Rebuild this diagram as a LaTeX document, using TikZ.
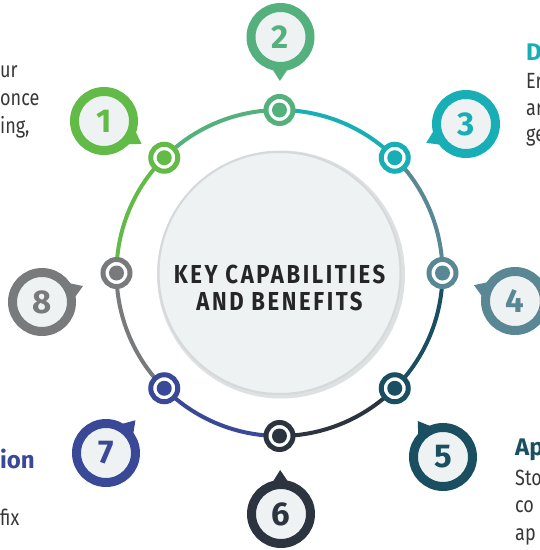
\documentclass[tikz,border=0pt]{standalone}
\usepackage{fontspec}
\setmainfont{Fira Sans}
\usetikzlibrary{calc}
\definecolor{cone}{RGB}{99, 187, 71}
\definecolor{ctwo}{RGB}{84, 176, 125}
\definecolor{cthree}{RGB}{23, 174, 181}
\definecolor{cfour}{RGB}{90, 135, 148}
\definecolor{cfive}{RGB}{26, 79, 97}
\definecolor{csix}{RGB}{44, 52, 64}
\definecolor{cseven}{RGB}{58, 72, 152}
\definecolor{ceight}{RGB}{120, 122, 124}
\definecolor{bub}{RGB}{238, 242, 243}
\definecolor{hubfill}{RGB}{238, 242, 243}
\definecolor{hubline}{RGB}{214, 217, 219}
\definecolor{txt}{RGB}{55, 55, 55}

\tikzset{
  ring/.style={line width=4pt},
  dotring/.style={circle, draw=#1, fill=white, line width=5pt, minimum size=27pt, inner sep=0pt},
  dotcore/.style={circle, fill=#1, minimum size=15pt, inner sep=0pt},
  bubble/.style={circle, draw=#1, fill=bub, line width=9pt, minimum size=59pt, inner sep=0pt, text=#1, font=\fontsize{33}{33}\selectfont\bfseries},
  side/.style={font=\fontsize{22}{28}\selectfont\addfontfeature{FakeStretch=0.82}, text=txt, inner sep=0pt},
  head/.style={font=\fontsize{24}{28}\selectfont\bfseries, text=#1, inner sep=0pt},
  title/.style={font=\fontsize{26}{27}\selectfont\bfseries\addfontfeature{FakeStretch=0.85, LetterSpace=10}, text=black!85, align=center, inner sep=0pt}
}

\begin{document}
\begin{tikzpicture}[x=1pt, y=1pt]
      \useasboundingbox (-279.5, -277) rectangle (260.5, 273);
      \clip (-279.5, -277) rectangle (260.5, 273);
      \fill[hubline!80] (1.5, -1.5) circle (124);
      \node[circle, fill=hubfill, draw=hubline, line width=2pt, minimum size=242pt] (hub) at (0, 0) {};
      \node[title] (t) at (0, -14.5) {KEY CAPABILITIES\\AND BENEFITS};
      \coordinate (p1) at (135:163);
      \coordinate (p2) at (90:163);
      \coordinate (p3) at (45:163);
      \coordinate (p4) at (0:163);
      \coordinate (p5) at (-45:163);
      \coordinate (p6) at (-90:163);
      \coordinate (p7) at (-135:163);
      \coordinate (p8) at (180:163);
      \draw[ring, cone] (p8) arc[start angle=180, end angle=135, radius=163];
      \draw[ring, ctwo] (p1) arc[start angle=135, end angle=90, radius=163];
      \draw[ring, cthree] (p2) arc[start angle=90, end angle=45, radius=163];
      \draw[ring, cfour] (p3) arc[start angle=45, end angle=0, radius=163];
      \draw[ring, cfive] (p4) arc[start angle=0, end angle=-45, radius=163];
      \draw[ring, csix] (p5) arc[start angle=-45, end angle=-90, radius=163];
      \draw[ring, cseven] (p6) arc[start angle=-90, end angle=-135, radius=163];
      \draw[ring, ceight] (p7) arc[start angle=-135, end angle=-180, radius=163];
      \node[dotring=cone] (m1) at (p1) {};
      \node[dotring=ctwo] (m2) at (p2) {};
      \node[dotring=cthree] (m3) at (p3) {};
      \node[dotring=cfour] (m4) at (p4) {};
      \node[dotring=cfive] (m5) at (p5) {};
      \node[dotring=csix] (m6) at (p6) {};
      \node[dotring=cseven] (m7) at (p7) {};
      \node[dotring=ceight] (m8) at (p8) {};
      \node[dotcore=cone] (d1) at (m1) {};
      \node[dotcore=ctwo] (d2) at (m2) {};
      \node[dotcore=cthree] (d3) at (m3) {};
      \node[dotcore=cfour] (d4) at (m4) {};
      \node[dotcore=cfive] (d5) at (m5) {};
      \node[dotcore=csix] (d6) at (m6) {};
      \node[dotcore=cseven] (d7) at (m7) {};
      \node[dotcore=ceight] (d8) at (m8) {};
      \node[bubble=cone] (b1) at (-175.5, 152) {1};
      \node[bubble=ctwo] (b2) at (1, 236) {2};
      \node[bubble=cthree] (b3) at (186.5, 149) {3};
      \node[bubble=cfour] (b4) at (235.5, -28) {4};
      \node[bubble=cfive] (b5) at (163.5, -184) {5};
      \node[bubble=csix] (b6) at (1.5, -241) {6};
      \node[bubble=cseven] (b7) at (-173.5, -180) {7};
      \node[bubble=ceight] (b8) at (-237.5, -29) {8};
      \fill[cone] ($(b1)!44pt!(m1)$) -- ($(b1)!30pt!20:(m1)$) -- ($(b1)!30pt!-20:(m1)$) -- cycle;
      \fill[ctwo] ($(b2)!44pt!(m2)$) -- ($(b2)!30pt!20:(m2)$) -- ($(b2)!30pt!-20:(m2)$) -- cycle;
      \fill[cthree] ($(b3)!44pt!(m3)$) -- ($(b3)!30pt!20:(m3)$) -- ($(b3)!30pt!-20:(m3)$) -- cycle;
      \fill[cfour] ($(b4)!44pt!(m4)$) -- ($(b4)!30pt!20:(m4)$) -- ($(b4)!30pt!-20:(m4)$) -- cycle;
      \fill[cfive] ($(b5)!44pt!(m5)$) -- ($(b5)!30pt!20:(m5)$) -- ($(b5)!30pt!-20:(m5)$) -- cycle;
      \fill[csix] ($(b6)!44pt!(m6)$) -- ($(b6)!30pt!20:(m6)$) -- ($(b6)!30pt!-20:(m6)$) -- cycle;
      \fill[cseven] ($(b7)!44pt!(m7)$) -- ($(b7)!30pt!20:(m7)$) -- ($(b7)!30pt!-20:(m7)$) -- cycle;
      \fill[ceight] ($(b8)!44pt!(m8)$) -- ($(b8)!30pt!20:(m8)$) -- ($(b8)!30pt!-20:(m8)$) -- cycle;
      \node[side, anchor=base west] (l1) at (-279.5, 196) {ur};
      \node[side, anchor=base west] (l2) at (-279.5, 168) {once};
      \node[side, anchor=base west] (l3) at (-279.5, 140) {ing,};
      \node[head=cthree, anchor=base west] (r0) at (246.5, 213) {D};
      \node[side, anchor=base west] (r1) at (246.5, 185) {Er};
      \node[side, anchor=base west] (r2) at (246.5, 158) {ar};
      \node[side, anchor=base west] (r3) at (246.5, 131.5) {ge};
      \node[head=cfive, anchor=base west] (s0) at (235.5, -182) {Ap};
      \node[side, anchor=base west] (s1) at (235.5, -212) {Sto};
      \node[side, anchor=base west] (s2) at (235.5, -239) {co};
      \node[side, anchor=base west] (s3) at (235.5, -267) {ap};
      \node[head=cseven, anchor=base west] (q0) at (-279.5, -195) {ion};
      \node[side, anchor=base west] (q1) at (-279.5, -252) {fix};
    \end{tikzpicture}
\end{document}
